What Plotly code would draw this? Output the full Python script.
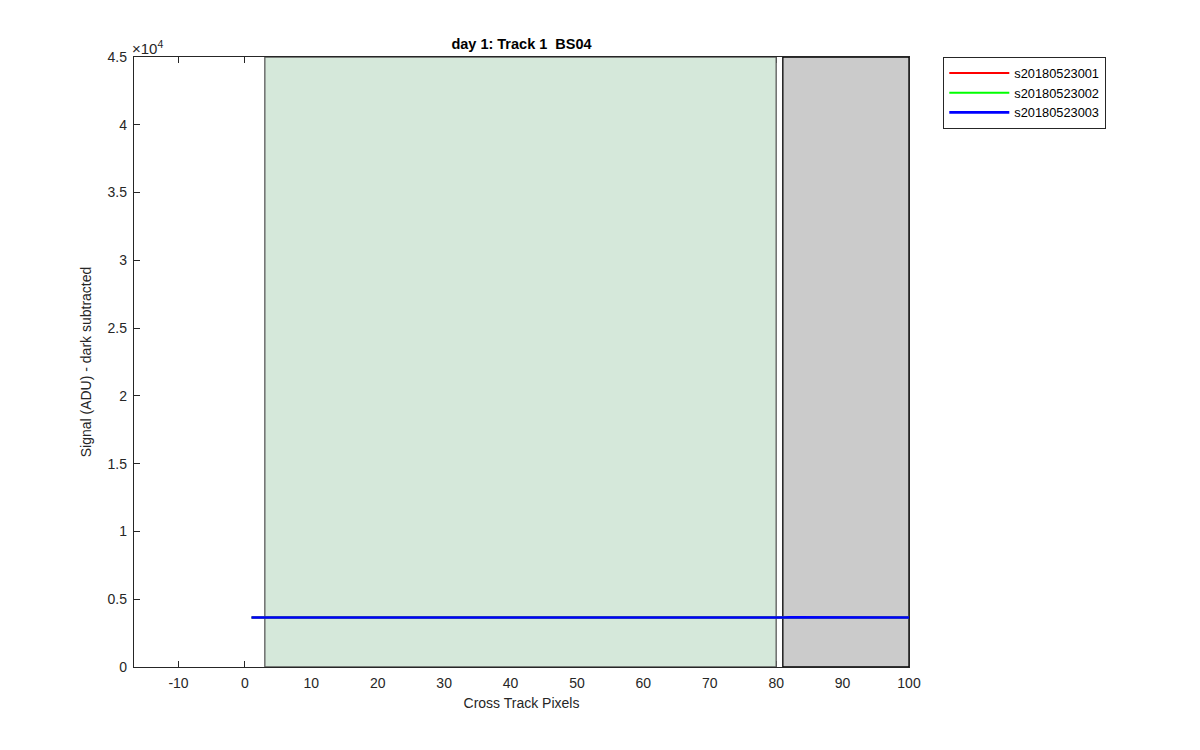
import plotly.graph_objects as go

pixels = list(range(1, 101))
sig_001 = [3648, 3652, 3655, 3650, 3647, 3653, 3656, 3651, 3649, 3654,
           3652, 3648, 3655, 3657, 3650, 3646, 3653, 3655, 3651, 3649,
           3654, 3656, 3650, 3647, 3652, 3655, 3653, 3649, 3651, 3656,
           3654, 3648, 3650, 3655, 3652, 3649, 3653, 3657, 3651, 3648,
           3652, 3655, 3650, 3653, 3656, 3651, 3649, 3654, 3652, 3648,
           3655, 3653, 3650, 3657, 3652, 3649, 3654, 3656, 3651, 3653,
           3655, 3650, 3652, 3657, 3654, 3649, 3653, 3656, 3652, 3655,
           3658, 3653, 3656, 3660, 3655, 3652, 3657, 3659, 3654, 3656,
           3658, 3655, 3653, 3659, 3656, 3654, 3657, 3660, 3655, 3658,
           3656, 3653, 3659, 3657, 3655, 3660, 3656, 3658, 3657, 3655]
sig_002 = [3651, 3649, 3653, 3655, 3650, 3648, 3654, 3652, 3650, 3656,
           3653, 3650, 3652, 3655, 3653, 3648, 3651, 3656, 3653, 3650,
           3652, 3654, 3651, 3649, 3655, 3653, 3650, 3652, 3654, 3653,
           3651, 3650, 3654, 3652, 3649, 3655, 3651, 3653, 3656, 3650,
           3654, 3652, 3648, 3655, 3653, 3650, 3652, 3656, 3651, 3649,
           3653, 3655, 3652, 3650, 3654, 3653, 3651, 3655, 3653, 3650,
           3652, 3656, 3654, 3651, 3653, 3655, 3650, 3654, 3657, 3653,
           3655, 3657, 3654, 3656, 3658, 3654, 3655, 3657, 3656, 3653,
           3657, 3659, 3655, 3656, 3658, 3655, 3659, 3656, 3654, 3658,
           3657, 3655, 3656, 3659, 3657, 3654, 3658, 3656, 3659, 3656]
sig_003 = [3650, 3653, 3651, 3649, 3654, 3652, 3650, 3655, 3651, 3648,
           3653, 3655, 3650, 3652, 3654, 3651, 3649, 3653, 3656, 3652,
           3650, 3654, 3652, 3649, 3651, 3655, 3652, 3650, 3653, 3651,
           3649, 3654, 3652, 3650, 3655, 3651, 3653, 3650, 3652, 3655,
           3651, 3649, 3654, 3652, 3650, 3653, 3655, 3651, 3650, 3654,
           3652, 3650, 3655, 3651, 3653, 3652, 3649, 3654, 3652, 3651,
           3655, 3653, 3650, 3654, 3652, 3656, 3654, 3651, 3655, 3657,
           3654, 3656, 3658, 3655, 3653, 3657, 3656, 3654, 3658, 3657,
           3655, 3658, 3656, 3654, 3659, 3657, 3655, 3658, 3657, 3659,
           3656, 3658, 3657, 3655, 3659, 3657, 3656, 3658, 3660, 3657]

series_names = ["s20180523001", "s20180523002", "s20180523003"]
series_colors = ["#ff0000", "#00ff00", "#0000ff"]
series_widths = [2, 2, 2.6]

green_band = [3, 80]
gray_band = [81, 100]
y_max = 45000

y_tick_vals = [0, 5000, 10000, 15000, 20000, 25000, 30000, 35000, 40000, 45000]
y_tick_text = ["0", "0.5", "1", "1.5", "2", "2.5", "3", "3.5", "4", "4.5"]
x_tick_vals = [-10, 0, 10, 20, 30, 40, 50, 60, 70, 80, 90, 100]
x_tick_text = ["-10", "0", "10", "20", "30", "40", "50", "60", "70", "80", "90", "100"]

fig = go.Figure()

# shaded bands
fig.add_trace(go.Scatter(
    x=[green_band[0], green_band[1], green_band[1], green_band[0], green_band[0]],
    y=[0, 0, y_max, y_max, 0], fill="toself", fillcolor="#d5e8da",
    line=dict(color="#5a5a5a", width=1.3), mode="lines", showlegend=False, hoverinfo="skip"))
fig.add_trace(go.Scatter(
    x=[gray_band[0], gray_band[1], gray_band[1], gray_band[0], gray_band[0]],
    y=[0, 0, y_max, y_max, 0], fill="toself", fillcolor="#cbcbcb",
    line=dict(color="#000000", width=1.3), mode="lines", showlegend=False, hoverinfo="skip"))

for name, col, w, vals in zip(series_names, series_colors, series_widths,
                              [sig_001, sig_002, sig_003]):
    fig.add_trace(go.Scatter(x=pixels, y=vals, mode="lines", name=name,
                             line=dict(color=col, width=w)))

font_family = "Liberation Sans, Arial, sans-serif"
axis_common = dict(
    showline=True, linecolor="#262626", linewidth=1.3, mirror="ticks",
    ticks="inside", ticklen=6, tickwidth=1.3, tickcolor="#262626",
    showgrid=False, zeroline=False, layer="below traces",
    tickfont=dict(family=font_family, size=14, color="#262626"),
)

# page offset of 8 px (browser body margin) is compensated here
L, T, W, H = 126, 49, 775, 610

fig.update_layout(
    width=1200, height=750,
    paper_bgcolor="white", plot_bgcolor="white",
    margin=dict(l=L, r=1200 - L - W, t=T, b=750 - T - H),
    title=dict(text="<b>day 1: Track 1  BS04</b>", x=(L + W / 2) / 1200, xanchor="center",
               y=1 - 36 / 750, yanchor="middle",
               font=dict(family=font_family, size=14.5, color="#000000")),
    xaxis=dict(range=[-16.7, 100], tickvals=x_tick_vals, ticktext=x_tick_text,
               ticklabelstandoff=3,
               title=dict(text="Cross Track Pixels", standoff=8,
                          font=dict(family=font_family, size=14, color="#262626")),
               **axis_common),
    yaxis=dict(range=[0, y_max], tickvals=y_tick_vals, ticktext=y_tick_text,
               ticklabelstandoff=3,
               title=dict(text="Signal (ADU) - dark subtracted", standoff=12,
                          font=dict(family=font_family, size=14, color="#262626")),
               **axis_common),
    legend=dict(x=(935 - L) / W, y=1.0, xref="paper", yref="paper",
                xanchor="left", yanchor="top",
                bordercolor="#262626", borderwidth=1.3, bgcolor="white",
                font=dict(family=font_family, size=12.8, color="#000000"),
                tracegroupgap=0, itemwidth=60),
    annotations=[dict(text="×10<sup>4</sup>", x=0, y=1, xref="paper", yref="paper",
                      xanchor="left", yanchor="bottom", showarrow=False, xshift=-4, yshift=-2,
                      font=dict(family=font_family, size=15, color="#262626"))],
)

fig.write_html("out.html")
